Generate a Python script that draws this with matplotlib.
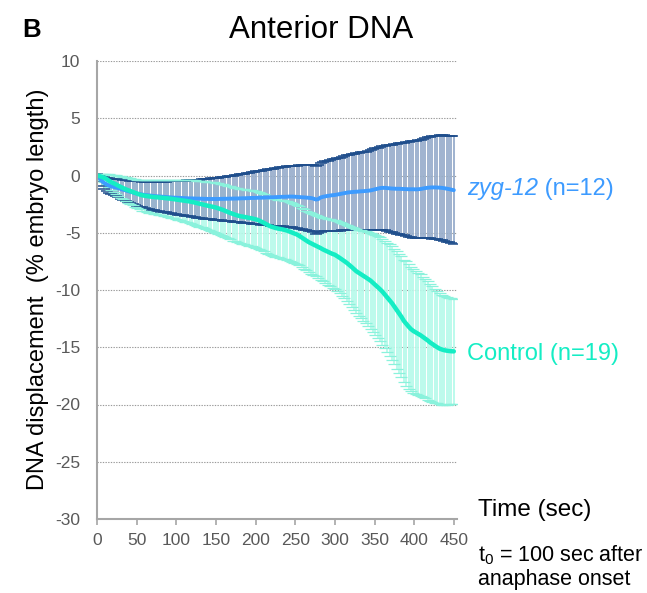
import matplotlib
matplotlib.use("Agg")
import matplotlib.pyplot as plt
import numpy as np

plt.rcParams['font.family'] = ['Liberation Sans', 'DejaVu Sans']
plt.rcParams['mathtext.fontset'] = 'custom'
plt.rcParams['mathtext.rm'] = 'Liberation Sans'
plt.rcParams['mathtext.it'] = 'Liberation Sans:italic'
plt.rcParams['axes.unicode_minus'] = False

# time points (sec), one sample every 3 s
time = np.arange(0, 451, 3)

# zyg-12 (n=12): mean and SD of anterior DNA displacement (% embryo length)
zyg_mean = [
    0.00, -0.20, -0.48, -0.64, -0.78, -0.88, -0.95, -1.00, -1.05, -1.10,
    -1.18, -1.24, -1.30, -1.36, -1.42, -1.48, -1.54, -1.58, -1.62, -1.66,
    -1.70, -1.72, -1.74, -1.77, -1.79, -1.81, -1.83, -1.85, -1.86, -1.88,
    -1.90, -1.91, -1.93, -1.94, -1.95, -1.96, -1.97, -1.98, -1.99, -2.00,
    -2.00, -2.01, -2.02, -2.02, -2.03, -2.04, -2.04, -2.05, -2.05, -2.05,
    -2.05, -2.05, -2.04, -2.04, -2.03, -2.03, -2.02, -2.02, -2.01, -2.01,
    -2.00, -1.99, -1.99, -1.98, -1.97, -1.96, -1.96, -1.95, -1.94, -1.94,
    -1.93, -1.92, -1.91, -1.90, -1.90, -1.89, -1.88, -1.87, -1.86, -1.86,
    -1.85, -1.84, -1.84, -1.85, -1.87, -1.88, -1.90, -1.91, -1.93, -1.95,
    -1.97, -2.02, -2.10, -2.06, -1.92, -1.86, -1.82, -1.78, -1.75, -1.72,
    -1.70, -1.66, -1.62, -1.58, -1.54, -1.50, -1.47, -1.45, -1.43, -1.42,
    -1.40, -1.38, -1.37, -1.35, -1.33, -1.30, -1.25, -1.20, -1.15, -1.10,
    -1.08, -1.08, -1.10, -1.12, -1.14, -1.15, -1.16, -1.16, -1.17, -1.18,
    -1.19, -1.20, -1.20, -1.20, -1.21, -1.20, -1.18, -1.14, -1.10, -1.07,
    -1.05, -1.04, -1.04, -1.05, -1.06, -1.08, -1.11, -1.15, -1.19, -1.24,
    -1.28,
]
zyg_sd = [
    0.10, 0.25, 0.40, 0.50, 0.58, 0.64, 0.68, 0.72, 0.76, 0.80,
    0.85, 0.88, 0.92, 0.95, 0.98, 1.01, 1.04, 1.07, 1.10, 1.12,
    1.14, 1.17, 1.19, 1.21, 1.23, 1.25, 1.28, 1.30, 1.32, 1.35,
    1.38, 1.40, 1.43, 1.46, 1.48, 1.50, 1.52, 1.54, 1.56, 1.58,
    1.61, 1.63, 1.65, 1.67, 1.70, 1.72, 1.74, 1.77, 1.79, 1.82,
    1.85, 1.87, 1.89, 1.92, 1.94, 1.96, 1.98, 2.01, 2.03, 2.06,
    2.09, 2.12, 2.15, 2.18, 2.21, 2.24, 2.27, 2.30, 2.33, 2.35,
    2.38, 2.41, 2.44, 2.47, 2.50, 2.52, 2.55, 2.57, 2.59, 2.62,
    2.64, 2.66, 2.69, 2.71, 2.74, 2.76, 2.78, 2.81, 2.84, 2.87,
    2.90, 2.94, 2.97, 2.98, 3.00, 3.02, 3.05, 3.07, 3.09, 3.12,
    3.14, 3.16, 3.19, 3.21, 3.23, 3.26, 3.28, 3.31, 3.33, 3.35,
    3.37, 3.40, 3.42, 3.44, 3.47, 3.50, 3.53, 3.56, 3.59, 3.62,
    3.66, 3.70, 3.74, 3.78, 3.82, 3.86, 3.91, 3.96, 4.01, 4.06,
    4.11, 4.15, 4.19, 4.22, 4.26, 4.29, 4.32, 4.35, 4.38, 4.41,
    4.44, 4.47, 4.50, 4.53, 4.56, 4.59, 4.62, 4.64, 4.66, 4.68,
    4.70,
]

# Control (n=19)
ctrl_mean = [
    0.00, -0.05, -0.12, -0.20, -0.30, -0.45, -0.58, -0.68, -0.78, -0.90,
    -1.00, -1.10, -1.20, -1.28, -1.36, -1.44, -1.52, -1.60, -1.67, -1.73,
    -1.77, -1.80, -1.83, -1.86, -1.88, -1.90, -1.92, -1.94, -1.96, -1.98,
    -2.00, -2.03, -2.06, -2.09, -2.12, -2.15, -2.18, -2.21, -2.24, -2.27,
    -2.31, -2.36, -2.41, -2.46, -2.51, -2.56, -2.61, -2.66, -2.70, -2.75,
    -2.80, -2.87, -2.94, -3.01, -3.10, -3.19, -3.27, -3.35, -3.42, -3.49,
    -3.55, -3.58, -3.62, -3.66, -3.70, -3.74, -3.79, -3.84, -3.92, -4.02,
    -4.12, -4.24, -4.35, -4.45, -4.52, -4.58, -4.63, -4.67, -4.71, -4.76,
    -4.82, -4.90, -4.98, -5.06, -5.15, -5.27, -5.41, -5.55, -5.68, -5.82,
    -5.93, -6.03, -6.13, -6.23, -6.34, -6.46, -6.56, -6.66, -6.76, -6.85,
    -6.92, -7.05, -7.19, -7.33, -7.48, -7.63, -7.80, -7.98, -8.17, -8.36,
    -8.50, -8.63, -8.76, -8.90, -9.04, -9.18, -9.37, -9.55, -9.74, -9.94,
    -10.15, -10.40, -10.65, -10.90, -11.15, -11.45, -11.75, -12.05, -12.35, -12.70,
    -12.95, -13.20, -13.42, -13.58, -13.70, -13.82, -13.95, -14.10, -14.25, -14.40,
    -14.58, -14.72, -14.86, -15.00, -15.12, -15.20, -15.26, -15.30, -15.33, -15.35,
    -15.36,
]
ctrl_sd = [
    0.05, 0.15, 0.25, 0.35, 0.45, 0.55, 0.65, 0.73, 0.80, 0.87,
    0.93, 0.99, 1.04, 1.09, 1.13, 1.17, 1.21, 1.25, 1.29, 1.33,
    1.36, 1.39, 1.42, 1.44, 1.47, 1.50, 1.52, 1.55, 1.57, 1.60,
    1.62, 1.65, 1.68, 1.70, 1.73, 1.76, 1.79, 1.82, 1.85, 1.88,
    1.91, 1.94, 1.97, 2.00, 2.03, 2.05, 2.08, 2.10, 2.13, 2.15,
    2.18, 2.20, 2.23, 2.25, 2.27, 2.29, 2.31, 2.33, 2.34, 2.36,
    2.38, 2.39, 2.40, 2.41, 2.42, 2.43, 2.44, 2.45, 2.46, 2.47,
    2.48, 2.49, 2.50, 2.51, 2.52, 2.52, 2.53, 2.53, 2.54, 2.54,
    2.55, 2.55, 2.56, 2.56, 2.57, 2.57, 2.58, 2.59, 2.60, 2.61,
    2.64, 2.67, 2.69, 2.72, 2.75, 2.79, 2.83, 2.87, 2.92, 2.97,
    3.00, 3.05, 3.10, 3.18, 3.26, 3.34, 3.42, 3.50, 3.58, 3.65,
    3.74, 3.83, 3.92, 4.01, 4.10, 4.19, 4.28, 4.36, 4.45, 4.53,
    4.61, 4.70, 4.79, 4.88, 4.96, 5.04, 5.12, 5.20, 5.28, 5.36,
    5.45, 5.44, 5.42, 5.40, 5.37, 5.34, 5.31, 5.27, 5.22, 5.17,
    5.11, 5.05, 4.98, 4.91, 4.84, 4.80, 4.75, 4.70, 4.66, 4.63,
    4.60,
]

zyg_mean = np.array(zyg_mean)
zyg_sd = np.array(zyg_sd)
ctrl_mean = np.array(ctrl_mean)
ctrl_sd = np.array(ctrl_sd)

BLUE = "#3D9BFF"
BLUE_DARK = "#1F4E8C"
BLUE_BAR = "#97ADCB"
CYAN = "#14EDC4"
CYAN_BAR = "#B6FAEA"
CYAN_CAP = "#8AF2DC"

W, H = 647, 593
fig = plt.figure(figsize=(W / 100, H / 100), dpi=100)
ax = fig.add_axes([97 / W, 1 - 519 / H, 360 / W, 458 / H])

# error bars: vertical lines first, then caps
ax.errorbar(time, ctrl_mean, yerr=ctrl_sd, fmt="none", ecolor=CYAN_BAR,
            elinewidth=1.3, capsize=0, zorder=2)
ax.errorbar(time, zyg_mean, yerr=zyg_sd, fmt="none", ecolor=BLUE_BAR,
            elinewidth=1.3, capsize=0, zorder=3)
ax.plot(time, zyg_mean + zyg_sd, ls="none", marker="_", ms=8, mew=1.1,
        color=BLUE_DARK, zorder=4)
ax.plot(time, zyg_mean - zyg_sd, ls="none", marker="_", ms=8, mew=1.1,
        color=BLUE_DARK, zorder=4)
ax.plot(time, ctrl_mean + ctrl_sd, ls="none", marker="_", ms=8, mew=0.9,
        color=CYAN_CAP, zorder=4)
ax.plot(time, ctrl_mean - ctrl_sd, ls="none", marker="_", ms=8, mew=0.9,
        color=CYAN_CAP, zorder=4)

# means
ax.plot(time, zyg_mean, color=BLUE, lw=2.8, zorder=5, solid_capstyle="round")
ax.plot(time, ctrl_mean, color=CYAN, lw=3.2, zorder=6, solid_capstyle="round")

ax.set_xlim(0, 454)
ax.set_ylim(-30, 10)
ax.set_xticks(range(0, 451, 50))
ax.set_yticks(range(-30, 11, 5))
ax.yaxis.grid(True, ls=(0, (1.2, 1.2)), color="#9A9A9A", lw=0.8)
ax.set_axisbelow(True)

for s in ["top", "right"]:
    ax.spines[s].set_visible(False)
for s in ["left", "bottom"]:
    ax.spines[s].set_color("#A6A6A6")
    ax.spines[s].set_linewidth(1.5)
    ax.spines[s].set_zorder(7)

ax.tick_params(axis="y", length=0, pad=12, labelsize=12.5, labelcolor="#595959")
ax.tick_params(axis="x", length=4, width=1.2, color="#A6A6A6", direction="out",
               pad=6, labelsize=12.5, labelcolor="#595959")

# titles and labels
fig.text(22 / W, 1 - 30 / H, "B", fontsize=18.5, fontweight="bold", va="center")
fig.text(321 / W, 1 - 30 / H, "Anterior DNA", fontsize=22.5, ha="center", va="center")
fig.text(38 / W, 1 - 289 / H, "DNA displacement  (% embryo length)", fontsize=17,
         rotation=90, ha="center", va="center")
fig.text(478 / W, 1 - 510 / H, "Time (sec)", fontsize=17.5, va="center")
fig.text(478 / W, 1 - 555 / H, r"t$_0$ = 100 sec after", fontsize=15.5, va="center")
fig.text(478 / W, 1 - 579 / H, "anaphase onset", fontsize=15.5, va="center")

# series labels
t1 = fig.text(467 / W, 1 - 189 / H, "zyg-12", fontsize=17, style="italic",
              color=BLUE, va="center")
ax.annotate(" (n=12)", xy=(1, 0.5), xycoords=t1, fontsize=17, color=BLUE,
            va="center", ha="left", annotation_clip=False)
fig.text(467 / W, 1 - 354 / H, "Control (n=19)", fontsize=17, color=CYAN,
         va="center")

fig.savefig("out.png", dpi=100)
